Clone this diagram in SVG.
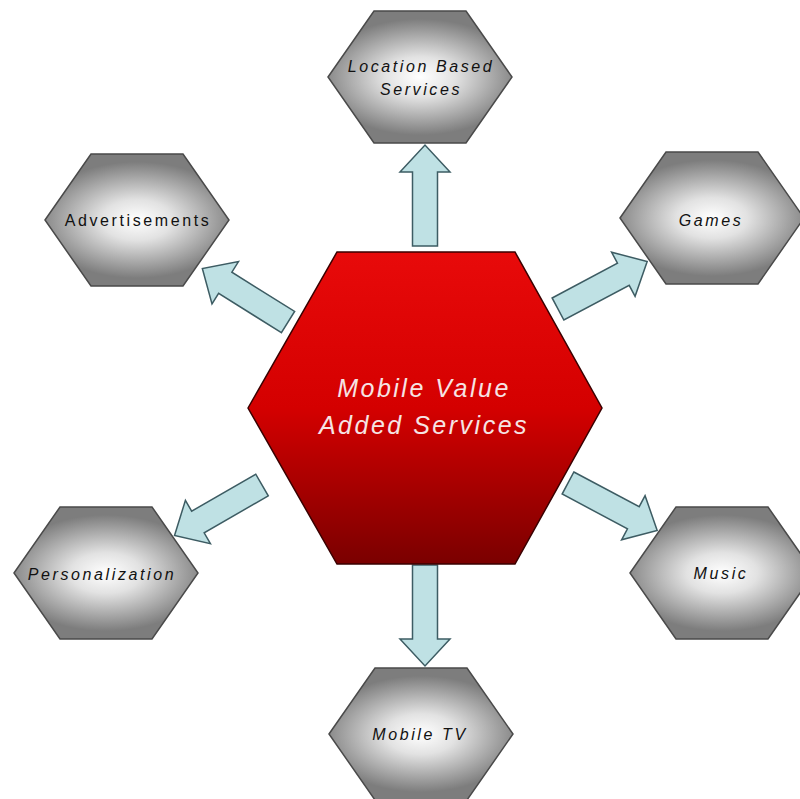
<svg xmlns="http://www.w3.org/2000/svg" width="800" height="799" viewBox="0 0 800 799">
<defs>
<radialGradient id="gray" cx="50%" cy="50%" r="55%" fx="50%" fy="50%" gradientTransform="translate(0.5 0.5) scale(1 0.8) translate(-0.5 -0.5)">
<stop offset="0" stop-color="#ffffff"/>
<stop offset="0.35" stop-color="#e2e2e2"/>
<stop offset="1" stop-color="#7d7d7d"/>
</radialGradient>
<linearGradient id="red" x1="0" y1="0" x2="0" y2="1">
<stop offset="0" stop-color="#e80a0a"/>
<stop offset="0.5" stop-color="#d40000"/>
<stop offset="1" stop-color="#7a0000"/>
</linearGradient>
<path id="hex" d="M-92,0 L-46,-66 L46,-66 L92,0 L46,66 L-46,66 Z"/>
<path id="arr" d="M0,-12.5 L74,-12.5 L74,-25 L101,0 L74,25 L74,12.5 L0,12.5 Z"/>
</defs>
<style>
.node use{fill:url(#gray);stroke:#4a4a4a;stroke-width:1.5}
.lbl{font-family:"Liberation Sans",Arial,sans-serif;font-size:16px;fill:#111;text-anchor:middle;letter-spacing:2.6px}
.it{font-style:italic}
.arrows use{fill:#bfe1e4;stroke:#3d5c63;stroke-width:1.5}
.main{font-family:"Liberation Sans",Arial,sans-serif;font-size:25px;font-style:italic;fill:#f6e4e4;text-anchor:middle;letter-spacing:2.5px}
</style>
<rect width="800" height="799" fill="#ffffff"/>
<g class="arrows" id="connectors">
<use href="#arr" transform="translate(425,246) rotate(-90)"/>
<use href="#arr" transform="translate(425,565) rotate(90)"/>
<use href="#arr" transform="translate(288,322) rotate(212)"/>
<use href="#arr" transform="translate(558,309) rotate(-28)"/>
<use href="#arr" transform="translate(262,485) rotate(150)"/>
<use href="#arr" transform="translate(568,483) rotate(28)"/>
</g>
<g id="center">
<path d="M248,408 L337,252 L515,252 L602,408 L515,564 L337,564 Z" fill="url(#red)" stroke="#3a0000" stroke-width="1.5"/>
<text class="main" x="424" y="397">Mobile Value</text>
<text class="main" x="424" y="434">Added Services</text>
</g>
<g class="node" id="lbs" transform="translate(420,77)">
<use href="#hex"/>
<text class="lbl it" x="1" y="-5">Location Based</text>
<text class="lbl it" x="1" y="18">Services</text>
</g>
<g class="node" id="adv" transform="translate(137,220)">
<use href="#hex"/>
<text class="lbl" x="1" y="6">Advertisements</text>
</g>
<g class="node" id="games" transform="translate(712,218)">
<use href="#hex"/>
<text class="lbl it" x="-1" y="8">Games</text>
</g>
<g class="node" id="pers" transform="translate(106,573)">
<use href="#hex"/>
<text class="lbl it" x="-4" y="7">Personalization</text>
</g>
<g class="node" id="music" transform="translate(722,573)">
<use href="#hex"/>
<text class="lbl it" x="-1" y="6">Music</text>
</g>
<g class="node" id="tv" transform="translate(421,734)">
<use href="#hex"/>
<text class="lbl it" x="-1" y="6">Mobile TV</text>
</g>
</svg>
